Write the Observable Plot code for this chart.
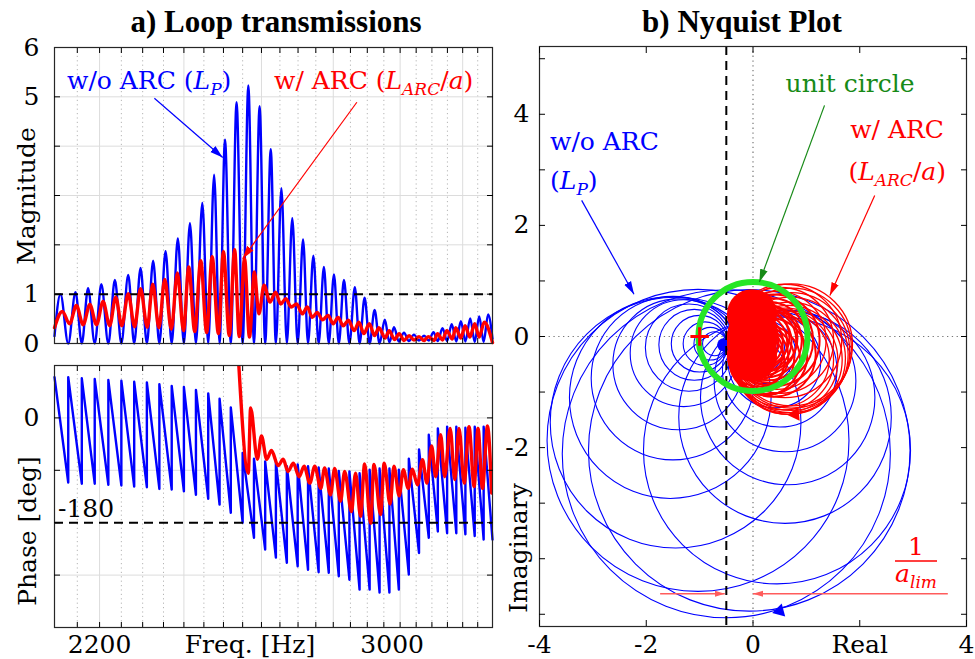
<!DOCTYPE html>
<html><head><meta charset="utf-8">
<script src="https://cdn.jsdelivr.net/npm/d3@7"></script>
<script src="https://cdn.jsdelivr.net/npm/@observablehq/plot@0.6"></script>
<style>
body{margin:0;background:#fff;}
#wrap{position:relative;width:975px;height:659px;overflow:hidden;background:#fff;}
#wrap svg{position:absolute;max-width:none;}
</style>
</head><body><div id="wrap"></div>
<script>
// ---------- data ----------
const freqDomain = [2100, 3300];
const freqLabelTicks = [2200];
const freqLabelTicks2 = [3000];
const freqTickMarks = [2150,2200,2250,2300,2350,2400,2450,2500,2550,2600,2650,2700,2750,2800,2850,2900,2950,3000,3050,3100,3150,3200,3250];
const gridMajorFreq = [2200,2400,2600,2800,3000,3200];
const gridMinorFreq = [2150,2250,2300,2350,2450,2500,2550,2650,2700,2750,2850,2900,2950,3050,3100,3150,3250];
const magLabelTicks = [0,1,5,6];
const magTickMarks = [1,2,3,4,5];
const magGrid = [1,2,3,4,5];
const phaseLabelTicks = [0];
const phaseTickMarks = [-270,-180,-90,0];
const phaseGrid = [-270,-90,0];

// blue |L_P| : resonance peaks and zeros
const bluePeakFreq = [2113,2146,2174,2204,2235,2266,2295,2325,2355,2385,2415,2446,2476,2504,2534,2565,2595,2625,2654,2684,2714,2743,2773,2802,2831,2863,2892,2922,2953,2981,3012,3043,3075,3105,3134,3164,3194,3225,3255,3285];
const bluePeakMag = [1.00,1.04,1.12,1.20,1.29,1.39,1.53,1.68,1.87,2.13,2.44,2.85,3.42,4.13,4.89,5.23,4.81,3.94,3.15,2.54,2.11,1.78,1.55,1.40,1.29,1.14,0.93,0.68,0.48,0.33,0.22,0.18,0.16,0.23,0.31,0.39,0.45,0.51,0.55,0.59];
const blueZeroFreq = [2130,2160,2189,2220,2250,2280,2310,2340,2370,2400,2430,2461,2490,2519,2550,2580,2610,2639,2669,2699,2728,2758,2787,2816,2847,2877,2907,2937,2967,2996,3027,3059,3090,3119,3149,3179,3209,3240,3270];
const blueZeroMag = [0,0,0,0,0,0,0,0,0,0,0,0,0,0,0,0,0,0,0,0,0,0,0,0,0,0,0,0,0.02,0.04,0.05,0.06,0.06,0.05,0.05,0.04,0.04,0.03,0.03];
const blueEdgeFreq = [2100, 3300];
const blueEdgeMag = [0.15, 0.10];
// blue phase: value just before / just after each jump (at the zeros)
const bluePhaseBefore = [-111,-113,-113,-115,-116,-118,-119,-122,-123,-126,-132,-139,-149,-163,-180,-206,-226,-240,-249,-255,-261,-265,-266,-272,-278,-295,-295,-300,-300,-295,-269,-232,-206,-195,-198,-198,-200,-203,-209];
const bluePhaseAfter = [70,68,67,65,64,62,61,58,55,53,48,42,33,18,-60,-70,-75,-75,-83,-80,-83,-85,-87,-91,-92,-95,-89,-87,-87,-89,-70,-54,-29,-18,-15,-15,-17,-15,-15];
const blueEdgePhase = [70, -209];

// red |L_ARC/a| : alternating maxima / minima
const redMagFreq = [2100,2117,2133,2148,2163,2178,2193,2208,2223,2237,2251,2266,2281,2295,2311,2324,2339,2353,2369,2384,2399,2412,2427,2442,2457,2471,2487,2500,2515,2529,2541,2555,2568,2581,2593,2607,2623,2638,2652,2666,2681,2696,2712,2726,2740,2754,2769,2785,2800,2814,2829,2844,2861,2875,2890,2906,2922,2935,2954,2966,2983,2997,3012,3028,3043,3059,3075,3088,3107,3118,3134,3148,3166,3177,3194,3208,3224,3240,3255,3272,3300];
const redMag = [0.32,0.65,0.40,0.77,0.38,0.79,0.38,0.85,0.36,0.94,0.36,1.01,0.34,1.11,0.33,1.20,0.32,1.30,0.29,1.43,0.26,1.55,0.24,1.68,0.22,1.76,0.20,1.86,0.16,1.90,0.14,1.72,0.13,1.45,0.60,1.18,0.84,1.04,0.80,0.91,0.74,0.80,0.60,0.74,0.53,0.63,0.48,0.57,0.40,0.53,0.36,0.47,0.26,0.43,0.20,0.40,0.16,0.32,0.11,0.26,0.08,0.20,0.06,0.16,0.07,0.14,0.06,0.14,0.06,0.20,0.07,0.26,0.09,0.32,0.11,0.36,0.13,0.40,0.13,0.43,0.02];
const redPhaseFreq = [2540,2565,2571,2589,2600,2614,2627,2645,2659,2672,2687,2703,2717,2733,2747,2764,2775,2792,2804,2821,2833,2853,2865,2880,2892,2910,2920,2940,2951,2969,2981,2997,3010,3025,3038,3054,3070,3084,3099,3112,3128,3141,3159,3174,3188,3205,3221,3238,3251,3266,3283,3297];
const redPhase = [90,-95,17,-71,-31,-71,-56,-82,-71,-92,-78,-101,-83,-112,-83,-121,-86,-132,-87,-143,-92,-161,-95,-169,-79,-181,-80,-166,-78,-148,-83,-134,-89,-121,-88,-115,-72,-112,-48,-101,-29,-101,-18,-106,-18,-112,-15,-118,-18,-121,-14,-129];

// annotation arrows on the magnitude panel (freq, magnitude)
const magArrowF1 = [2328, 2869];
const magArrowM1 = [4.97, 4.89];
const magArrowF2 = [2498, 2550];
const magArrowM2 = [3.77, 1.72];
const magArrowColor = ["#0000ff", "#ff0000"];

// Nyquist loops (centre Re, centre Im, radius)
const blueLoopRe = [-0.50,-1.03,-0.07,0.45,-1.45,-1.55,-1.50,-1.40,-1.30,-1.20,-1.10,-1.00,-0.90,-0.80,-0.72,0.60,0.65,0.60,0.50,0.40,0.30,0.20,0.10,0.05,0.00];
const blueLoopIm = [-2.11,-1.87,-2.05,-2.05,-1.55,-1.10,-0.75,-0.50,-0.30,-0.20,-0.15,-0.13,-0.13,-0.13,-0.13,-1.45,-1.10,-0.80,-0.60,-0.45,-0.35,-0.28,-0.20,-0.15,-0.12];
const blueLoopR = [3.01,2.77,2.95,2.45,2.30,1.85,1.50,1.20,0.98,0.80,0.65,0.52,0.40,0.30,0.22,1.95,1.60,1.30,1.05,0.85,0.70,0.58,0.48,0.40,0.32];
const blueBlob = [{re: -0.55, im: -0.15, r: 0.12}];
const redLoopRe = [0.72,0.72,0.71,0.70,0.68,0.65,0.61,0.57,0.53,0.60,0.52,0.45,0.39,0.33,0.28,0.23,0.18,0.14,0.10,0.06,0.02,-0.02,-0.06,-0.10,-0.14,-0.18,-0.22,-0.26,-0.30,-0.34,0.05,0.10,0.16,0.22,0.00,-0.05,0.30,0.38,0.12,0.20,0.26,-0.02,0.08];
const redLoopIm = [-0.15,-0.21,-0.27,-0.33,-0.39,-0.42,-0.43,-0.42,-0.40,-0.08,-0.07,-0.07,-0.07,-0.07,-0.08,-0.08,-0.09,-0.09,-0.10,-0.10,-0.11,-0.11,-0.12,-0.12,-0.13,-0.13,-0.14,-0.14,-0.15,-0.15,-0.30,-0.36,-0.40,-0.42,-0.25,-0.22,-0.35,-0.32,-0.02,-0.03,-0.20,-0.35,-0.45];
const redLoopR = [1.12,1.10,1.08,1.06,1.03,1.00,0.96,0.92,0.88,1.04,0.97,0.90,0.84,0.78,0.72,0.67,0.62,0.57,0.53,0.49,0.45,0.41,0.37,0.33,0.29,0.25,0.21,0.17,0.13,0.09,0.50,0.55,0.60,0.65,0.42,0.36,0.70,0.78,0.55,0.62,0.68,0.42,0.50];
// densely overlapping loops near the origin that read as a solid red area
const redCoreRe = [-0.02, -0.02, 0.00];
const redCoreIm = [0.40, -0.36, 0.02];
const redCoreR = [0.46, 0.46, 0.47];
const unitCircle = [{re: 0, im: 0, r: 1}];
const aLim = [-0.5];
const criticalPoint = [{re: -1, im: 0}];
const dirMarkRe = [0.50, 0.79];
const dirMarkIm = [-4.94, -1.40];
const dirMarkRot = [-105, -95];
const dirMarkColor = ["#0000ff", "#ff0000"];
const nyqArrowRe1 = [-3.21, 1.34, 2.28];
const nyqArrowIm1 = [2.45, 4.16, 2.54];
const nyqArrowRe2 = [-2.23, 0.12, 1.44];
const nyqArrowIm2 = [0.76, 0.98, 0.74];
const nyqArrowColor = ["#0000ff", "#178a17", "#ff0000"];
const limArrowRe1 = [-1.74, 3.65];
const limArrowRe2 = [-0.53, 0.0];
const limArrowIm = [-4.63, -4.63];
const nyqXTicks = [-4,-2,0,2,4];
const nyqYLabelTicks = [4,2,0,-2];
const nyqYTickMarks = [-5,-4,-3,-2,-1,0,1,2,3,4,5];

// ---------- build tables ----------
const blueMagRows = [{f: blueEdgeFreq[0], m: blueEdgeMag[0]}];
bluePeakFreq.forEach((f, i) => {
  blueMagRows.push({f, m: bluePeakMag[i]});
  if (i < blueZeroFreq.length) blueMagRows.push({f: blueZeroFreq[i], m: blueZeroMag[i]});
});
blueMagRows.push({f: blueEdgeFreq[1], m: blueEdgeMag[1]});
const redMagRows = redMagFreq.map((f, i) => ({f, m: redMag[i]}));
const bluePhaseRows = [{f: blueEdgeFreq[0], p: blueEdgePhase[0]}];
blueZeroFreq.forEach((f, i) => { bluePhaseRows.push({f, p: bluePhaseBefore[i]}, {f, p: bluePhaseAfter[i]}); });
bluePhaseRows.push({f: blueEdgeFreq[1], p: blueEdgePhase[1]});
const redPhaseRows = redPhaseFreq.map((f, i) => ({f, p: redPhase[i]}));
const magArrows = magArrowF1.map((f, i) => ({x1: f, y1: magArrowM1[i], x2: magArrowF2[i], y2: magArrowM2[i], c: magArrowColor[i]}));
const blueLoops = blueLoopRe.map((re, i) => ({re, im: blueLoopIm[i], r: blueLoopR[i]}));
const redLoops = redLoopRe.map((re, i) => ({re, im: redLoopIm[i], r: redLoopR[i]}));
const redCore = redCoreRe.map((re, i) => ({re, im: redCoreIm[i], r: redCoreR[i]}));
const dirMarks = dirMarkRe.map((re, i) => ({re, im: dirMarkIm[i], rot: dirMarkRot[i], c: dirMarkColor[i]}));
const nyqArrows = nyqArrowRe1.map((re, i) => ({x1: re, y1: nyqArrowIm1[i], x2: nyqArrowRe2[i], y2: nyqArrowIm2[i], c: nyqArrowColor[i]}));
const limArrows = limArrowRe1.map((re, i) => ({x1: re, x2: limArrowRe2[i], y: limArrowIm[i]}));

// filled arrow head marker
function filledArrow(size) {
  return (color) => {
    const m = d3.create("svg:marker")
      .attr("viewBox", `${-size} ${-size / 2} ${size} ${size}`)
      .attr("markerWidth", size).attr("markerHeight", size)
      .attr("markerUnits", "userSpaceOnUse")
      .attr("refX", 0).attr("refY", 0)
      .attr("orient", "auto");
    m.append("path").attr("d", `M${-size},${-size * 0.3}L0,0L${-size},${size * 0.3}Z`).attr("fill", color).attr("stroke", "none");
    return m.node();
  };
}

const baseStyle = {fontFamily: "DejaVu Serif", fontSize: "25px", color: "#000", background: "none", overflow: "visible"};
const frameColor = "#262626";
const gridSolid = "#dcdcdc";
const gridDot = "#b5b5b5";

// ---------- a) magnitude ----------
const mag = Plot.plot({
  width: 500, height: 350,
  marginLeft: 54, marginRight: 8, marginTop: 47, marginBottom: 7,
  style: baseStyle,
  x: {type: "log", domain: freqDomain},
  y: {domain: [0, 6]},
  marks: [
    Plot.gridX(gridMinorFreq, {stroke: gridDot, strokeOpacity: 1, strokeDasharray: "1.2,3.2"}),
    Plot.gridX(gridMajorFreq, {stroke: gridSolid, strokeOpacity: 1}),
    Plot.gridY(magGrid, {stroke: gridSolid, strokeOpacity: 1}),
    Plot.line(blueMagRows, {x: "f", y: "m", stroke: "#0000ff", strokeWidth: 2.4, curve: "monotone-x"}),
    Plot.ruleY([1], {stroke: "#000", strokeWidth: 2, strokeDasharray: "9,6"}),
    Plot.line(redMagRows, {x: "f", y: "m", stroke: "#ff0000", strokeWidth: 3.4, curve: "monotone-x"}),
    Plot.link(magArrows, {x1: "x1", y1: "y1", x2: "x2", y2: "y2", stroke: "c", strokeWidth: 1.2, markerEnd: filledArrow(13)}),
    Plot.frame({stroke: frameColor, strokeWidth: 1.2}),
    Plot.axisY(magLabelTicks, {tickSize: 0, tickPadding: 15, label: null, tickFormat: d => String(d)}),
    Plot.axisY(magTickMarks, {anchor: "left", tickSize: -6, fill: "none", label: null}),
    Plot.axisY(magTickMarks, {anchor: "right", tickSize: -6, fill: "none", label: null}),
    Plot.axisX(freqTickMarks, {anchor: "top", tickSize: -5, fill: "none", label: null}),
    Plot.axisX(freqTickMarks, {anchor: "bottom", tickSize: -5, fill: "none", label: null})
  ]
});
mag.style.left = "0px"; mag.style.top = "0px";

// ---------- a) phase ----------
const phase = Plot.plot({
  width: 500, height: 309,
  marginLeft: 54, marginRight: 8, marginTop: 15, marginBottom: 32,
  style: baseStyle,
  x: {type: "log", domain: freqDomain},
  y: {domain: [-360, 90]},
  marks: [
    Plot.gridX(gridMinorFreq, {stroke: gridDot, strokeOpacity: 1, strokeDasharray: "1.2,3.2"}),
    Plot.gridX(gridMajorFreq, {stroke: gridSolid, strokeOpacity: 1}),
    Plot.gridY(phaseGrid, {stroke: gridSolid, strokeOpacity: 1}),
    Plot.line(bluePhaseRows, {x: "f", y: "p", stroke: "#0000ff", strokeWidth: 2.4}),
    Plot.ruleY([-180], {stroke: "#000", strokeWidth: 2, strokeDasharray: "9,6"}),
    Plot.line(redPhaseRows, {x: "f", y: "p", stroke: "#ff0000", strokeWidth: 3.4, curve: "monotone-x", clip: true}),
    Plot.frame({stroke: frameColor, strokeWidth: 1.2}),
    Plot.axisY(phaseLabelTicks, {tickSize: 0, tickPadding: 15, label: null, tickFormat: d => String(d)}),
    Plot.axisY(phaseTickMarks, {anchor: "left", tickSize: -6, fill: "none", label: null}),
    Plot.axisY(phaseTickMarks, {anchor: "right", tickSize: -6, fill: "none", label: null}),
    Plot.axisX(freqTickMarks, {anchor: "top", tickSize: -5, fill: "none", label: null}),
    Plot.axisX(freqTickMarks, {anchor: "bottom", tickSize: -5, fill: "none", label: null}),
    Plot.axisX(freqLabelTicks, {anchor: "bottom", tickSize: 0, tickPadding: 8, label: null, tickFormat: d => String(d)}),
    Plot.axisX(freqLabelTicks2, {anchor: "bottom", tickSize: 0, tickPadding: 8, dx: -8, label: null, tickFormat: d => String(d)})
  ]
});
phase.style.left = "0px"; phase.style.top = "350px";

// ---------- b) Nyquist ----------
const nyq = Plot.plot({
  width: 475, height: 659,
  marginLeft: 39, marginRight: 9, marginTop: 46, marginBottom: 33,
  style: baseStyle,
  x: {domain: [-4, 4]},
  y: {domain: [-5.22, 5.22]},
  r: {type: "linear", domain: [0, 1], range: [0, 54.5]},
  marks: [
    Plot.ruleX([0], {stroke: "#777", strokeDasharray: "1.3,3.5", strokeWidth: 1.2}),
    Plot.ruleY([0], {stroke: "#777", strokeDasharray: "1.3,3.5", strokeWidth: 1.2}),
    Plot.dot(blueLoops, {x: "re", y: "im", r: "r", stroke: "#0000ff", fill: "none", strokeWidth: 1.1, clip: true}),
    Plot.dot(blueBlob, {x: "re", y: "im", r: "r", fill: "#0000ff", stroke: "none"}),
    Plot.ruleX(aLim, {stroke: "#000", strokeWidth: 2, strokeDasharray: "9,6"}),
    Plot.dot(redCore, {x: "re", y: "im", r: "r", fill: "#ff0000", stroke: "none"}),
    Plot.dot(redLoops, {filter: d => d.r >= 0.85, x: "re", y: "im", r: "r", stroke: "#ff0000", fill: "none", strokeWidth: 1.3, clip: true}),
    Plot.dot(redLoops, {filter: d => d.r < 0.85, x: "re", y: "im", r: "r", stroke: "#ff0000", fill: "none", strokeWidth: 2.0, clip: true}),
    Plot.dot(unitCircle, {x: "re", y: "im", r: "r", stroke: "#26e626", fill: "none", strokeWidth: 6}),
    Plot.dot(criticalPoint, {x: "re", y: "im", symbol: "plus", r: 6, stroke: "#ff0000", strokeWidth: 3}),
    Plot.dot(dirMarks, {x: "re", y: "im", symbol: "triangle", r: 5, rotate: "rot", fill: "c", stroke: "none"}),
    Plot.link(nyqArrows, {x1: "x1", y1: "y1", x2: "x2", y2: "y2", stroke: "c", strokeWidth: 1.2, markerEnd: filledArrow(13)}),
    Plot.link(limArrows, {x1: "x1", y1: "y", x2: "x2", y2: "y", stroke: "#ff5c5c", strokeWidth: 1.5, markerEnd: filledArrow(10)}),
    Plot.frame({stroke: frameColor, strokeWidth: 1.2}),
    Plot.axisX(nyqXTicks, {anchor: "bottom", tickSize: 0, tickPadding: 9, label: null, tickFormat: d => d === 2 ? "Real" : String(d)}),
    Plot.axisX(nyqXTicks, {anchor: "bottom", tickSize: -6, fill: "none", label: null}),
    Plot.axisX(nyqXTicks, {anchor: "top", tickSize: -6, fill: "none", label: null}),
    Plot.axisY(nyqYLabelTicks, {tickSize: 0, tickPadding: 10, label: null, tickFormat: d => String(d)}),
    Plot.axisY(nyqYTickMarks, {anchor: "left", tickSize: -6, fill: "none", label: null}),
    Plot.axisY(nyqYTickMarks, {anchor: "right", tickSize: -6, fill: "none", label: null})
  ]
});
nyq.style.left = "500px"; nyq.style.top = "0px";

const wrap = document.getElementById("wrap");
wrap.append(mag, phase, nyq);

// ---------- text overlay ----------
const ov = d3.select(wrap).append("svg").attr("width", 975).attr("height", 659)
  .style("left", "0px").style("top", "0px").style("pointer-events", "none");
function rich(x, y, segs, {color = "#000", size = 25, anchor = "start", weight = "normal", family = "DejaVu Serif", rotate = 0} = {}) {
  const t = ov.append("text").attr("font-family", family).attr("font-size", size).attr("fill", color)
    .attr("text-anchor", anchor).attr("font-weight", weight)
    .attr("transform", `translate(${x},${y}) rotate(${rotate})`);
  let inSub = false;
  for (const s of segs) {
    const [str, st] = Array.isArray(s) ? s : [s, ""];
    const ts = t.append("tspan").text(str);
    if (st.includes("i")) ts.attr("font-style", "italic");
    const isSub = st.includes("s");
    if (isSub && !inSub) ts.attr("dy", size * 0.24);
    if (!isSub && inSub) ts.attr("dy", -size * 0.24);
    if (isSub) ts.attr("font-size", size * 0.68);
    inSub = isSub;
  }
  return t;
}
rich(276, 32, ["a) Loop transmissions"], {family: "Liberation Serif", weight: "bold", size: 31, anchor: "middle"});
rich(742, 32, ["b) Nyquist Plot"], {family: "Liberation Serif", weight: "bold", size: 31, anchor: "middle"});
rich(35, 196, ["Magnitude"], {anchor: "middle", rotate: -90});
rich(36, 531, ["Phase [deg]"], {anchor: "middle", rotate: -90});
rich(527, 548, ["Imaginary"], {anchor: "middle", rotate: -90});
rich(250, 653, ["Freq. [Hz]"], {anchor: "middle"});
rich(58, 517, ["-180"]);
rich(67, 89, ["w/o ARC (", ["L", "i"], ["P", "is"], ")"], {color: "#0000ff"});
rich(274, 89, ["w/ ARC (", ["L", "i"], ["ARC", "is"], "/", ["a", "i"], ")"], {color: "#ff0000"});
rich(550, 150, ["w/o ARC"], {color: "#0000ff"});
rich(550, 189, ["(", ["L", "i"], ["P", "is"], ")"], {color: "#0000ff"});
rich(944, 138, ["w/ ARC"], {color: "#ff0000", anchor: "end"});
rich(946, 180, ["(", ["L", "i"], ["ARC", "is"], "/", ["a", "i"], ")"], {color: "#ff0000", anchor: "end"});
rich(850, 92, ["unit circle"], {color: "#178a17", anchor: "middle"});
rich(916, 555, ["1"], {color: "#ff0000", anchor: "middle"});
rich(916, 582, [["a", "i"], ["lim", "is"]], {color: "#ff0000", anchor: "middle"});
ov.append("line").attr("x1", 895).attr("x2", 937).attr("y1", 561).attr("y2", 561).attr("stroke", "#ff0000").attr("stroke-width", 1.3);
</script></body></html>
